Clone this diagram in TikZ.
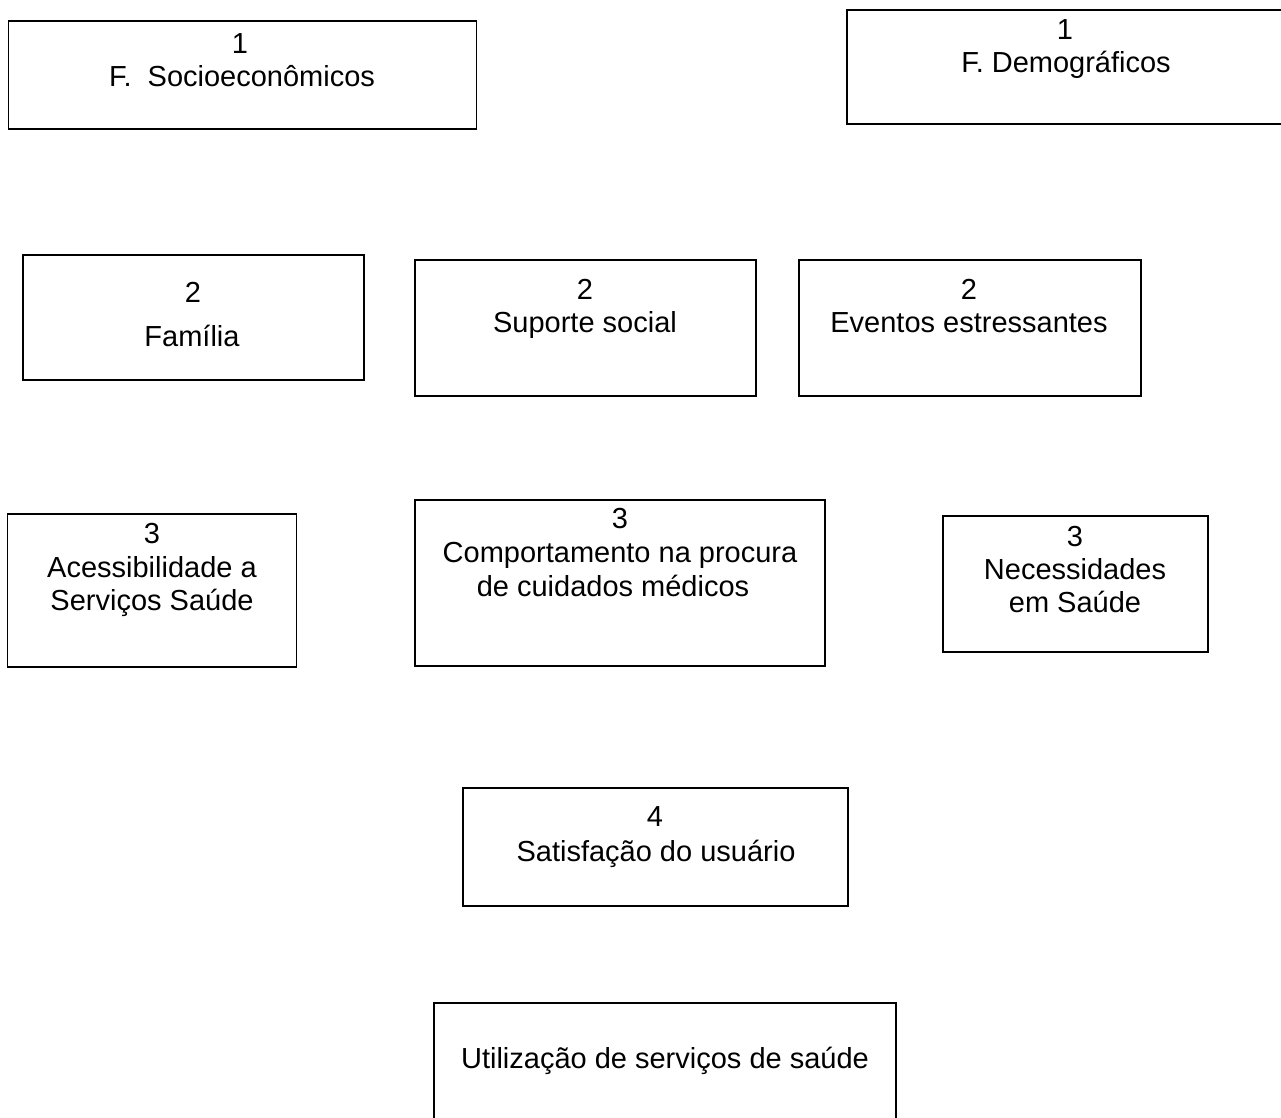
\documentclass[tikz,border=0pt]{standalone}
\usepackage{fontspec}
\setmainfont{Liberation Sans}
\begin{document}
\begin{tikzpicture}[x=1pt,y=-1pt,
  box/.style={draw=black, line width=1.8pt, rectangle, inner sep=0pt},
  txt/.style={anchor=base, inner sep=0pt, font=\fontsize{29}{33}\selectfont}]
\useasboundingbox (0,0) rectangle (1281,1117);
\clip (0,0) rectangle (1281,1117);
\fill[white] (0,0) rectangle (1281,1117);

% level 1
\node[box, minimum width=468, minimum height=108] (soc) at (242.5,75) {};
\node[txt] (soc1) at (240,53) {1};
\node[txt] (soc2) at (242,86) {F.\ \ Socioeconômicos};

\node[box, minimum width=450, minimum height=114] (dem) at (1072,67) {};
\node[txt] (dem1) at (1065,39) {1};
\node[txt] (dem2) at (1066,72) {F. Demográficos};

% level 2
\node[box, minimum width=341, minimum height=125] (fam) at (193.5,317.5) {};
\node[txt] (fam1) at (193,302) {2};
\node[txt] (fam2) at (192,346) {Família};

\node[box, minimum width=341, minimum height=136] (sup) at (585.5,328) {};
\node[txt] (sup1) at (585,299) {2};
\node[txt] (sup2) at (585,332) {Suporte social};

\node[box, minimum width=342, minimum height=136] (eve) at (970,328) {};
\node[txt] (eve1) at (969,299) {2};
\node[txt] (eve2) at (969,332) {Eventos estressantes};

% level 3
\node[box, minimum width=289, minimum height=153] (ace) at (152,590.5) {};
\node[txt] (ace1) at (152,543) {3};
\node[txt] (ace2) at (152,577) {Acessibilidade a};
\node[txt] (ace3) at (152,610) {Serviços Saúde};

\node[box, minimum width=410, minimum height=166] (com) at (620,583) {};
\node[txt] (com1) at (620,528) {3};
\node[txt] (com2) at (620,562) {Comportamento na procura};
\node[txt] (com3) at (613,596) {de cuidados médicos};

\node[box, minimum width=265, minimum height=136] (nec) at (1075.5,584) {};
\node[txt] (nec1) at (1075,546) {3};
\node[txt] (nec2) at (1075,579) {Necessidades};
\node[txt] (nec3) at (1075,612) {em Saúde};

% level 4
\node[box, minimum width=385, minimum height=118] (sat) at (655.5,847) {};
\node[txt] (sat1) at (655,826) {4};
\node[txt] (sat2) at (656,861) {Satisfação do usuário};

% outcome
\node[box, minimum width=462, minimum height=130] (uti) at (665,1068) {};
\node[txt] (uti1) at (665,1068) {Utilização de serviços de saúde};
\end{tikzpicture}
\end{document}
